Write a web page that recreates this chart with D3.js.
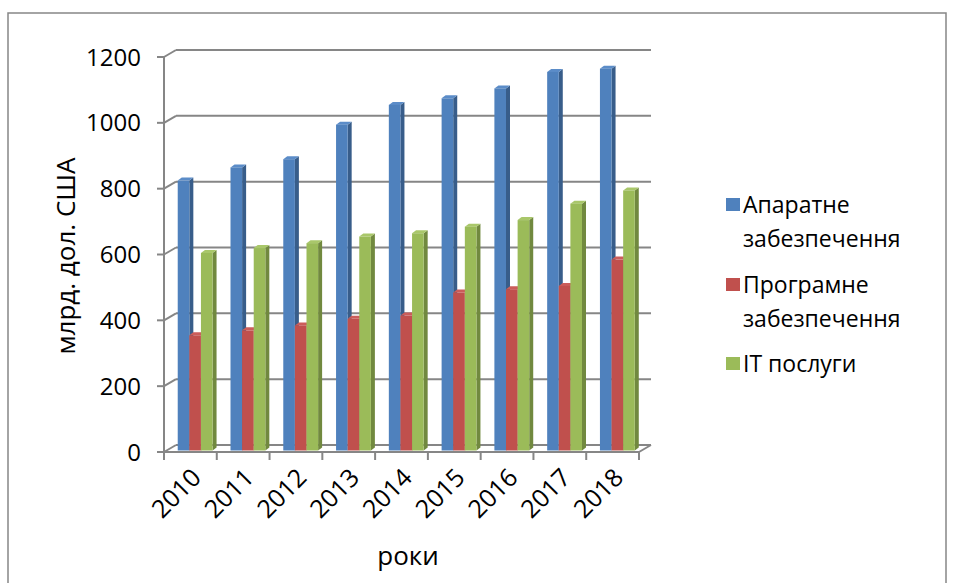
<!DOCTYPE html>
<html>
<head>
<meta charset="utf-8">
<script src="https://cdn.jsdelivr.net/npm/d3@7"></script>
<style>
  html, body { margin: 0; padding: 0; background: #ffffff; }
  svg { display: block; }
  text { font-family: "Open Sans", "Noto Sans", sans-serif; fill: #000; }
</style>
</head>
<body>
<svg id="chart" width="955" height="583"></svg>
<script>
// ---- data (млрд. дол. США) ----
const years = ["2010", "2011", "2012", "2013", "2014", "2015", "2016", "2017", "2018"];
const seriesNames = ["Апаратне забезпечення", "Програмне забезпечення", "IT послуги"];
const hardware = [820, 860, 885, 990, 1050, 1070, 1100, 1150, 1160];
const software = [350, 365, 380, 400, 410, 480, 490, 500, 580];
const itServices = [600, 615, 630, 650, 660, 680, 700, 750, 790];
const yTicks = [0, 200, 400, 600, 800, 1000, 1200];
const legendLines = [["Апаратне", "забезпечення"], ["Програмне", "забезпечення"], ["IT послуги"]];

const seriesValues = [hardware, software, itServices];
const colors = [
  { front: "#4F81BD", side: "#385D8A", top: "#5B8CC8" },
  { front: "#C0504D", side: "#8E3A38", top: "#CB5D5A" },
  { front: "#9BBB59", side: "#71893F", top: "#A9C76A" }
];

const svg = d3.select("#chart");

// chart area frame
svg.append("rect")
  .attr("x", 8).attr("y", 13).attr("width", 938).attr("height", 600)
  .attr("fill", "none").attr("stroke", "#868686").attr("stroke-width", 1.5);

// 3D geometry: front plane and back wall offset
const depth = { dx: 12, dy: -7 };
const x0 = d3.scaleBand().domain(years).range([164, 639]).padding(0);
const yFront = d3.scaleLinear().domain([0, 1200]).range([452, 57]);
const yBack = v => yFront(v) + depth.dy;
const yBar = d3.scaleLinear().domain([0, 1200]).range([450.5, 55.5]);
const xSeries = d3.scaleBand().domain(d3.range(3))
  .range([x0.bandwidth() * 0.26, x0.bandwidth() * 0.92]).padding(0);

const gridColor = "#868686";
const grid = svg.append("g").attr("fill", "none").attr("stroke", gridColor).attr("stroke-width", 2);

// back wall gridlines and left wall diagonals
yTicks.forEach(t => {
  grid.append("line")
    .attr("x1", 164 + depth.dx).attr("x2", 639 + depth.dx)
    .attr("y1", yBack(t)).attr("y2", yBack(t));
  grid.append("line")
    .attr("x1", 164).attr("y1", yFront(t))
    .attr("x2", 164 + depth.dx).attr("y2", yBack(t));
});

// floor front edge and right edge
grid.append("line").attr("x1", 164).attr("x2", 639).attr("y1", yFront(0)).attr("y2", yFront(0));
grid.append("line").attr("x1", 639).attr("y1", yFront(0)).attr("x2", 639 + depth.dx).attr("y2", yBack(0));

// vertical axis line and ticks
grid.append("line").attr("x1", 164).attr("x2", 164).attr("y1", yFront(1200)).attr("y2", yFront(0));
yTicks.forEach(t => {
  grid.append("line").attr("x1", 157).attr("x2", 164).attr("y1", yFront(t)).attr("y2", yFront(t));
});
// category ticks
x0.domain().concat([null]).forEach((d, i) => {
  const xx = 164 + i * x0.bandwidth();
  grid.append("line").attr("x1", xx).attr("x2", xx).attr("y1", yFront(0)).attr("y2", yFront(0) + 8);
});

// y tick labels
svg.append("g").selectAll("text").data(yTicks).join("text")
  .attr("x", 141).attr("y", d => yFront(d))
  .attr("dy", "0.36em")
  .attr("text-anchor", "end")
  .style("font-size", "24px")
  .text(d => d);

// bars drawn as front, top and side faces
const bw = xSeries.bandwidth();
const bd = { dx: 4, dy: -3 };
const bars = svg.append("g");
years.forEach((yr, i) => {
  seriesValues.forEach((vals, s) => {
    const v = vals[i];
    const xl = x0(yr) + xSeries(s);
    const xr = xl + bw;
    const yt = yBar(v);
    const yb = yBar(0);
    const c = colors[s];
    const g = bars.append("g");
    // side face
    g.append("path")
      .attr("d", `M${xr},${yb}L${xr + bd.dx},${yb + bd.dy}L${xr + bd.dx},${yt + bd.dy}L${xr},${yt}Z`)
      .attr("fill", c.side);
    // top face
    g.append("path")
      .attr("d", `M${xl},${yt}L${xl + bd.dx},${yt + bd.dy}L${xr + bd.dx},${yt + bd.dy}L${xr},${yt}Z`)
      .attr("fill", c.top);
    // front face
    g.append("rect")
      .attr("x", xl).attr("y", yt).attr("width", bw).attr("height", yb - yt)
      .attr("fill", c.front);
  });
});

// x tick labels, rotated
svg.append("g").selectAll("text").data(years).join("text")
  .attr("transform", d => `translate(${x0(d) + x0.bandwidth() / 2 + 6},${yFront(0) + 21}) rotate(-45)`)
  .attr("text-anchor", "end")
  .attr("dy", "0.35em")
  .style("font-size", "25px")
  .text(d => d);

// axis titles
svg.append("text")
  .attr("transform", "translate(66,256) rotate(-90)")
  .attr("text-anchor", "middle")
  .attr("dy", "0.35em")
  .style("font-size", "26px")
  .text("млрд. дол. США");

svg.append("text")
  .attr("x", 408).attr("y", 556)
  .attr("text-anchor", "middle")
  .attr("dy", "0.35em")
  .style("font-size", "26px")
  .text("роки");

// legend
const legendTops = [205, 285, 364];
const legend = svg.append("g");
seriesNames.forEach((name, s) => {
  const y = legendTops[s];
  legend.append("rect")
    .attr("x", 726).attr("y", y - 7).attr("width", 14).attr("height", 13)
    .attr("fill", colors[s].front);
  legendLines[s].forEach((line, k) => {
    legend.append("text")
      .attr("x", 743).attr("y", y + k * 34)
      .attr("dy", "0.35em")
      .style("font-size", "23px")
      .text(line);
  });
});
</script>
</body>
</html>
